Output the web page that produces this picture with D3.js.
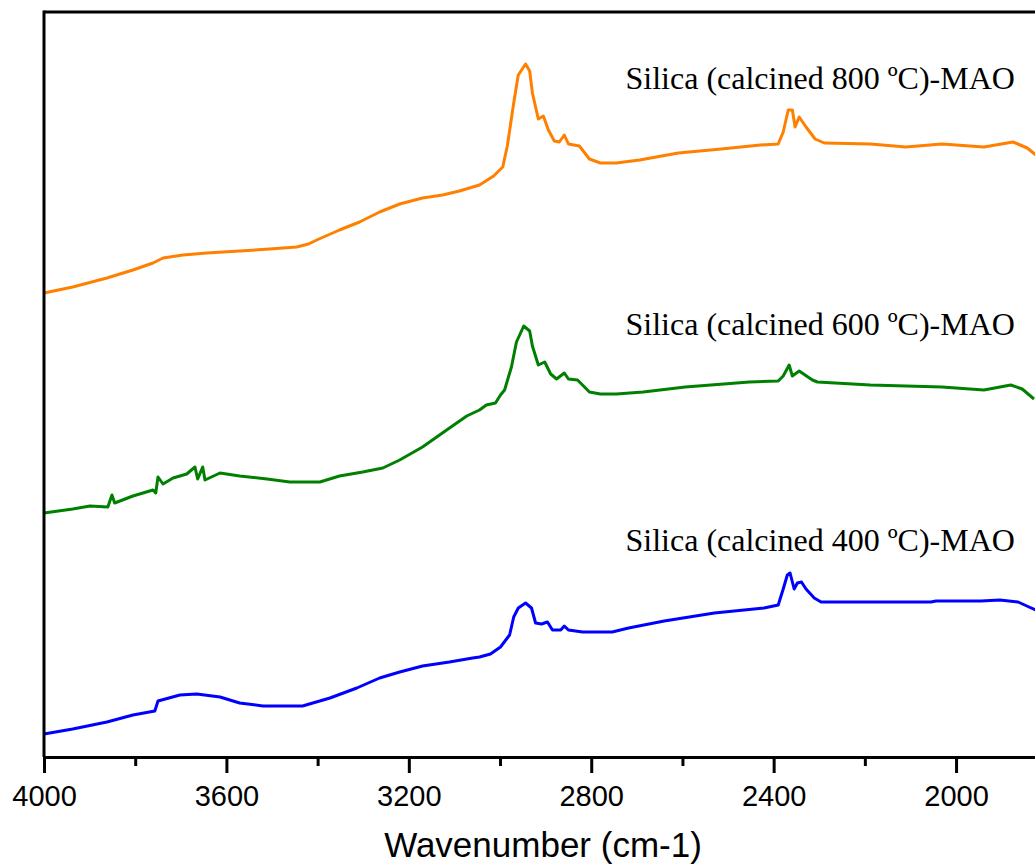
<!DOCTYPE html>
<html>
<head>
<meta charset="utf-8">
<script src="https://cdn.jsdelivr.net/npm/d3@7"></script>
<style>
  body { margin: 0; background: #fff; }
  svg { display: block; }
</style>
</head>
<body>
<div id="chart"></div>
<script>
// FTIR spectra, absorbance in arbitrary units
var wn800 = [4000,3937,3862,3805,3761,3739,3695,3643,3571,3505,3446,3420,3402,3352,3308,3264,3220,3170,3126,3089,3045,
             3014,2994,2984,2970,2960,2944,2935,2929,2916,2905,2894,2881,2870,2859,2850,2826,2804,2780,2745,2694,
             2609,2515,2429,2390,2379,2368,2359,2353,2344,2329,2309,2289,2188,2110,2031,1939,1875,1844,1825];
var abs800 = [464,470,479,487,494,499,502,504,506,508,510,513,517,527,535,545,553,559,562,566,572,
              581,590,611,654,682,693,686,664,638,641,627,616,615,622,613,611,598,594,594,597,
              604,608,612,613,625,647,647,630,640,630,618,614,613,610,613,610,615,609,602];

var wn600 = [4000,3937,3899,3860,3851,3845,3805,3761,3755,3750,3739,3717,3687,3669,3663,3652,3647,3614,3571,3511,3461,3395,3352,3301,3257,3220,3170,
             3117,3073,3045,3030,3010,2999,2990,2975,2964,2948,2935,2929,2916,2902,2889,2876,2859,2850,2830,2804,
             2780,2745,2686,2594,2453,2390,2379,2366,2359,2344,2315,2304,2188,2031,1939,1880,1855,1829];
var abs600 = [244,248,251,250,262,254,261,267,264,280,273,279,283,290,278,290,277,284,281,278,275,275,281,285,289,297,310,
              327,341,347,352,354,362,367,390,415,431,426,411,392,395,383,378,384,378,377,365,
              363,363,365,370,375,376,381,392,381,386,377,375,372,370,367,372,368,358];

var wn400 = [4000,3937,3862,3805,3757,3750,3702,3665,3614,3571,3520,3433,3373,3314,3264,3220,3170,3111,3060,3045,
             3021,2999,2979,2970,2960,2944,2931,2922,2909,2896,2885,2867,2859,2850,2819,2754,2718,2640,2530,2421,
             2390,2379,2370,2364,2355,2348,2339,2329,2311,2296,2055,2044,1945,1904,1864,1840,1825];
var abs400 = [23,28,35,42,46,56,62,63,60,54,51,51,59,69,79,85,91,95,99,100,
              103,110,122,140,149,154,149,134,133,135,127,127,131,127,125,125,129,136,144,149,
              152,168,182,184,168,174,175,168,159,155,155,156,156,157,155,150,147];

var seriesNames = ["Silica (calcined 800 ºC)-MAO", "Silica (calcined 600 ºC)-MAO", "Silica (calcined 400 ºC)-MAO"];
var majorTicks = [4000, 3600, 3200, 2800, 2400, 2000];
var minorTicks = [3800, 3400, 3000, 2600, 2200, 1800];
var xTitle = "Wavenumber (cm-1)";

var width = 1035, height = 866,
    plotLeft = 44, plotTop = 12, plotBottom = 757, plotRight = 1050;

var series = [
    {name: seriesNames[0], wn: wn800, abs: abs800, color: "#ff8000", labelY: 668},
    {name: seriesNames[1], wn: wn600, abs: abs600, color: "#008000", labelY: 422},
    {name: seriesNames[2], wn: wn400, abs: abs400, color: "#0000ff", labelY: 206}
];

var svg = d3.select("#chart")
    .append("svg")
    .attr("width", width)
    .attr("height", height);

var x = d3.scaleLinear().domain([4000, 1794]).range([plotLeft, plotRight]),
    y = d3.scaleLinear().domain([0, 745]).range([plotBottom, plotTop]);

var line = d3.line()
    .x( (d) => { return x(d[0]); } )
    .y( (d) => { return y(d[1]); } );

svg.append("g")
    .selectAll("path")
    .data(series)
    .join("path")
    .attr("fill", "none")
    .attr("stroke", (s) => { return s.color; })
    .attr("stroke-width", 3)
    .attr("stroke-linejoin", "round")
    .attr("d", (s) => { return line(s.wn.map( (w, i) => { return [w, s.abs[i]]; } )); });

// curve labels
svg.append("g")
    .selectAll("text")
    .data(series)
    .join("text")
    .attr("x", x(1871))
    .attr("y", (s) => { return y(s.labelY); })
    .attr("text-anchor", "end")
    .style("font", "32px 'Liberation Serif', 'Times New Roman', serif")
    .attr("fill", "#000")
    .text( (s) => { return s.name; } );

// frame: left and top lines
svg.append("line")
    .attr("x1", plotLeft).attr("x2", plotLeft)
    .attr("y1", plotTop - 1.5).attr("y2", plotBottom)
    .attr("stroke", "#000").attr("stroke-width", 3);
svg.append("line")
    .attr("x1", plotLeft).attr("x2", plotRight)
    .attr("y1", plotTop).attr("y2", plotTop)
    .attr("stroke", "#000").attr("stroke-width", 3);

// minor ticks
svg.append("g")
    .attr("transform", "translate(0," + plotBottom + ")")
    .call(d3.axisBottom(x).tickValues(minorTicks).tickSize(9).tickSizeOuter(0).tickFormat(""))
    .call( (g) => { g.select(".domain").remove(); } )
    .selectAll("line").attr("stroke-width", 3);

// major ticks + labels
var xAxis = svg.append("g")
    .attr("transform", "translate(0," + plotBottom + ")")
    .call(d3.axisBottom(x).tickValues(majorTicks).tickSize(16).tickSizeOuter(0).tickPadding(12).tickFormat(d3.format("d")));

xAxis.select(".domain").attr("stroke-width", 3);
xAxis.selectAll(".tick line").attr("stroke-width", 3);
xAxis.selectAll("text")
    .style("font", "29px 'Liberation Sans', Arial, sans-serif")
    .attr("fill", "#000");

svg.append("text")
    .attr("x", 543)
    .attr("y", 857)
    .attr("text-anchor", "middle")
    .style("font", "35px 'Liberation Sans', Arial, sans-serif")
    .attr("fill", "#000")
    .text(xTitle);
</script>
</body>
</html>
